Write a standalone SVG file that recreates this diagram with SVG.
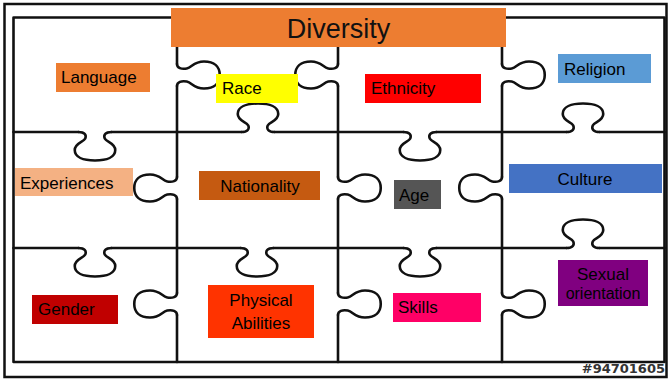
<svg xmlns="http://www.w3.org/2000/svg" xmlns:xlink="http://www.w3.org/1999/xlink" width="670" height="381" viewBox="0 0 670 381">
  <style>
    .grid { fill: none; stroke: #111; stroke-width: 2.6; stroke-linecap: round; stroke-linejoin: round; }
    .knob { fill: none; stroke: #111; stroke-width: 2.6; stroke-linecap: round; stroke-linejoin: round; }
    .lbl { font-family: "Liberation Sans", Arial, sans-serif; font-size: 17px; fill: #000; }
    .mid { text-anchor: middle; }
  </style>
  <defs>
    <!-- one jigsaw tab in unit space: runs along x, bulges toward +y -->
    <path id="tab" d="M-11,0 C-7,0 -5.5,3 -6.5,6.5 C-7.5,10 -13.5,11 -13.5,18 C-13.5,25 -8,28.5 0,28.5 C8,28.5 13.5,25 13.5,18 C13.5,11 7.5,10 6.5,6.5 C5.5,3 7,0 11,0" vector-effect="non-scaling-stroke"/>
  </defs>

  <rect width="670" height="381" fill="#fff"/>
  <!-- outer frame -->
  <rect x="4.5" y="4" width="662" height="373" fill="none" stroke="#111" stroke-width="2.5"/>

  <g id="puzzle">
    <!-- border of the puzzle -->
    <rect class="grid" x="13.5" y="17.5" width="651" height="344.5"/>
    <!-- straight runs of the inner cuts, open where the tabs sit -->
    <path class="grid" d="M13.5,132 H78.5 M111.5,132 H241.5 M274.5,132 H403.5 M436.5,132 H566.5 M599.5,132 H664.5
                          M13.5,248 H78.5 M111.5,248 H240.5 M273.5,248 H403.5 M436.5,248 H566.5 M599.5,248 H664.5
                          M177,17.5 V64 M177,86 V177 M177,199 V293 M177,315 V362
                          M338,17.5 V64 M338,86 V177 M338,199 V293 M338,315 V362
                          M502,17.5 V64 M502,86 V177 M502,199 V293 M502,315 V362"/>
    <!-- tabs on the horizontal cuts -->
    <use class="knob" href="#tab" transform="matrix(1.5,0,0,1,95,132)"/>
    <use class="knob" href="#tab" transform="matrix(1.5,0,0,-1,258,132)"/>
    <use class="knob" href="#tab" transform="matrix(1.5,0,0,1,420,132)"/>
    <use class="knob" href="#tab" transform="matrix(1.5,0,0,-1,583,132)"/>
    <use class="knob" href="#tab" transform="matrix(1.5,0,0,1,95,248)"/>
    <use class="knob" href="#tab" transform="matrix(1.5,0,0,1,257,248)"/>
    <use class="knob" href="#tab" transform="matrix(1.5,0,0,1,420,248)"/>
    <use class="knob" href="#tab" transform="matrix(1.5,0,0,-1,583,248)"/>
    <!-- tabs on the vertical cuts -->
    <use class="knob" href="#tab" transform="matrix(0,1,1.5,0,177,75)"/>
    <use class="knob" href="#tab" transform="matrix(0,1,-1.5,0,177,188)"/>
    <use class="knob" href="#tab" transform="matrix(0,1,-1.5,0,177,304)"/>
    <use class="knob" href="#tab" transform="matrix(0,1,-1.5,0,338,75)"/>
    <use class="knob" href="#tab" transform="matrix(0,1,1.5,0,338,188)"/>
    <use class="knob" href="#tab" transform="matrix(0,1,1.5,0,338,304)"/>
    <use class="knob" href="#tab" transform="matrix(0,1,1.5,0,502,75)"/>
    <use class="knob" href="#tab" transform="matrix(0,1,-1.5,0,502,188)"/>
    <use class="knob" href="#tab" transform="matrix(0,1,1.5,0,502,304)"/>
  </g>

  <g id="diversity">
    <rect x="171" y="8" width="335" height="39" fill="#ED7D31"/>
    <text x="338.5" y="38" font-family="'Liberation Sans', Arial, sans-serif" font-size="27" fill="#111" text-anchor="middle">Diversity</text>
  </g>

  <g id="language">
    <rect x="56" y="63" width="94" height="29" fill="#ED7D31"/>
    <text class="lbl" x="61" y="83">Language</text>
  </g>
  <g id="race">
    <rect x="216" y="74" width="82" height="29" fill="#FFFF00"/>
    <text class="lbl" x="222" y="94">Race</text>
  </g>
  <g id="ethnicity">
    <rect x="365" y="74" width="116" height="29" fill="#FF0000"/>
    <text class="lbl" x="371" y="94">Ethnicity</text>
  </g>
  <g id="religion">
    <rect x="558" y="54" width="93" height="29" fill="#5B9BD5"/>
    <text class="lbl" x="564" y="75">Religion</text>
  </g>
  <g id="experiences">
    <rect x="15" y="168" width="118" height="28" fill="#F4B183"/>
    <text class="lbl" x="20" y="189">Experiences</text>
  </g>
  <g id="nationality">
    <rect x="199" y="171" width="121" height="29" fill="#C55A11"/>
    <text class="lbl mid" x="260" y="192">Nationality</text>
  </g>
  <g id="age">
    <rect x="394" y="180" width="47" height="29" fill="#555555"/>
    <text class="lbl" x="399" y="201">Age</text>
  </g>
  <g id="culture">
    <rect x="509" y="164" width="153" height="29" fill="#4472C4"/>
    <text class="lbl mid" x="585" y="185">Culture</text>
  </g>
  <g id="gender">
    <rect x="32" y="295" width="86" height="29" fill="#C00000"/>
    <text class="lbl" x="38" y="315">Gender</text>
  </g>
  <g id="physical-abilities">
    <rect x="208" y="285" width="106" height="53" fill="#FF3300"/>
    <text class="lbl mid" x="261" y="306">Physical</text>
    <text class="lbl mid" x="261" y="329">Abilities</text>
  </g>
  <g id="skills">
    <rect x="393" y="293" width="88" height="29" fill="#FF0066"/>
    <text class="lbl" x="398" y="313">Skills</text>
  </g>
  <g id="sexual-orientation">
    <rect x="558" y="260" width="90" height="46" fill="#800080"/>
    <text class="lbl mid" x="603" y="280" font-size="16">Sexual</text>
    <text class="lbl mid" x="603" y="299" style="font-size:16px">orientation</text>
  </g>

  <text x="665" y="373" font-family="'DejaVu Sans', sans-serif" font-weight="bold" font-size="13" fill="#333" text-anchor="end">#94701605</text>
</svg>
